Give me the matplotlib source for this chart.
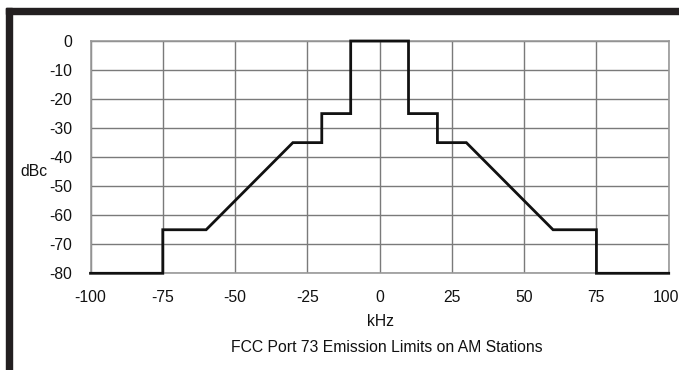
import matplotlib
matplotlib.use("Agg")
import matplotlib.pyplot as plt
from matplotlib.patches import Rectangle
import matplotlib.transforms as mtransforms

plt.rcParams['font.family'] = ['Liberation Sans', 'DejaVu Sans']

freq_khz = [-100, -75, -75, -60, -30, -20, -20, -10, -10, 10, 10, 20, 20, 30, 60, 75, 75, 100]
limit_dbc = [-80, -80, -65, -65, -35, -35, -25, -25, 0, 0, -25, -25, -35, -35, -65, -65, -80, -80]
x_ticks = [-100, -75, -50, -25, 0, 25, 50, 75, 100]
y_ticks = [0, -10, -20, -30, -40, -50, -60, -70, -80]

W, H = 679, 370
FS = 11.3
fig = plt.figure(figsize=(W / 100, H / 100), dpi=100)

ax = fig.add_axes([90.5 / W, (H - 273.3) / H, (668.7 - 90.5) / W, (273.3 - 41) / H])
ax.plot(freq_khz, limit_dbc, color='#111111', lw=2.0, solid_joinstyle='miter', zorder=3, clip_on=False)
ax.set_xlim(-100, 100)
ax.set_ylim(-80, 0)
ax.set_xticks(x_ticks)
ax.set_yticks(y_ticks)
ax.set_xticklabels([str(v) for v in x_ticks])
ax.set_yticklabels([str(v) for v in y_ticks])
ax.grid(True, color='#7a7a7a', lw=1.0)
ax.set_axisbelow(True)
for s in ax.spines.values():
    s.set_color('#999999')
    s.set_linewidth(1.2)
ax.tick_params(axis='both', length=0, labelsize=FS, colors='#111111')
ax.tick_params(axis='y', pad=13)
ax.tick_params(axis='x', pad=12)

# keep the last x label inside the canvas, as in the reference
last = ax.get_xticklabels()[-1]
last.set_transform(last.get_transform() + mtransforms.ScaledTranslation(-3 / 100, 0, fig.dpi_scale_trans))

fig.text(34 / W, 1 - 172 / H, 'dBc', ha='center', va='center', fontsize=FS, color='#111111')
fig.text(380 / W, 1 - 321 / H, 'kHz', ha='center', va='center', fontsize=FS, color='#111111')
fig.text(387 / W, 1 - 347 / H, 'FCC Port 73 Emission Limits on AM Stations', ha='center', va='center',
         fontsize=FS, color='#111111')

# black frame bars (top and left)
fig.patches.append(Rectangle((6 / W, (H - 13.5) / H), 1 - 6 / W, 5.5 / H, transform=fig.transFigure,
                             color='#231f20', zorder=10))
fig.patches.append(Rectangle((6 / W, 0), 6 / W, (H - 8) / H, transform=fig.transFigure,
                             color='#231f20', zorder=10))

fig.savefig('out.png', dpi=100)
